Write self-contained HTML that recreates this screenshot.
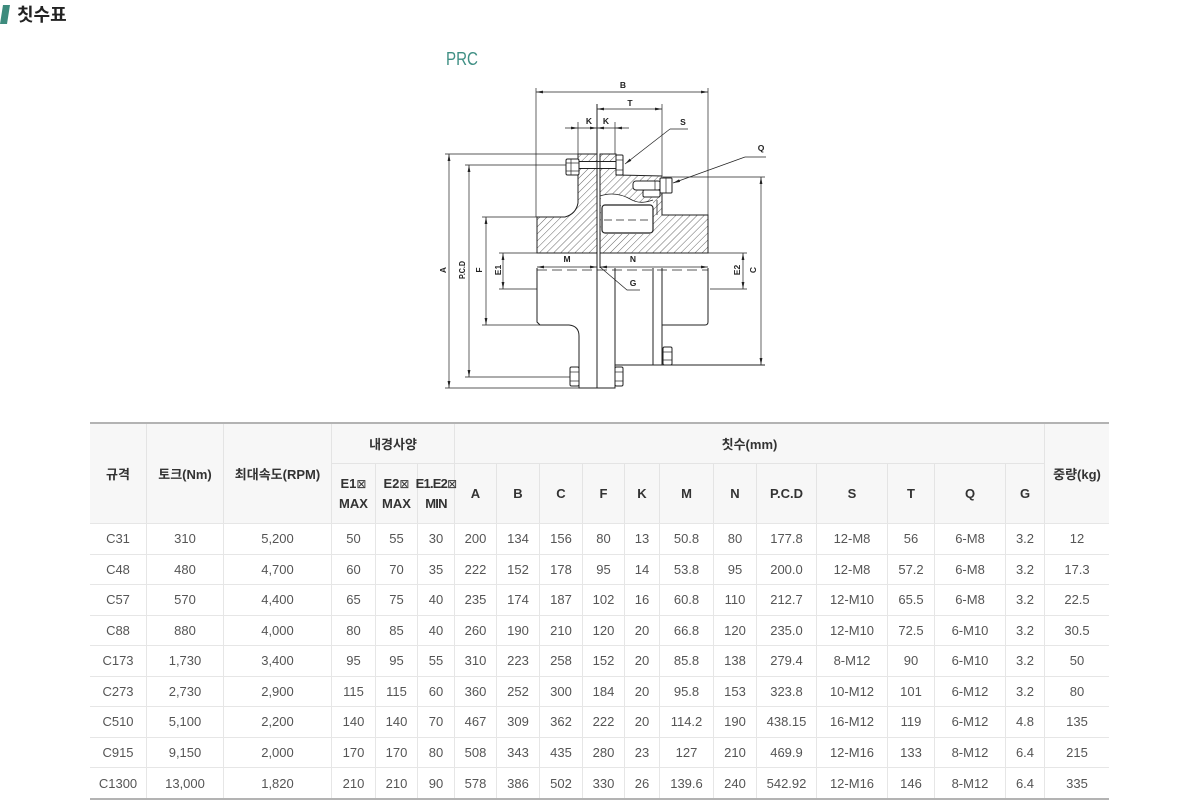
<!DOCTYPE html>
<html><head><meta charset="utf-8">
<style>
body{margin:0;width:1200px;height:800px;background:#fff;position:relative;overflow:hidden;font-family:"Liberation Sans","Noto Sans CJK KR",sans-serif;}
.c{position:absolute;display:flex;align-items:center;justify-content:center;text-align:center;box-sizing:border-box;font-weight:bold;color:#333;font-size:13px;white-space:nowrap;}
.br{border-right:1px solid #e4e4e4;}
.row{position:absolute;left:90px;width:1019px;height:30.5px;display:flex;border-top:1px solid #e6e6e6;box-sizing:border-box;font-size:13px;color:#555;}
.row div{display:flex;align-items:center;justify-content:center;border-right:1px solid #e6e6e6;box-sizing:border-box;white-space:nowrap;}
.row div:last-child{border-right:none}
.row div:nth-child(1){width:57px}.row div:nth-child(2){width:77px}.row div:nth-child(3){width:108px}
.row div:nth-child(4){width:44px}.row div:nth-child(5){width:42px}.row div:nth-child(6){width:37px}
.row div:nth-child(7){width:42px}.row div:nth-child(8){width:43px}.row div:nth-child(9){width:43px}
.row div:nth-child(10){width:42px}.row div:nth-child(11){width:35px}.row div:nth-child(12){width:54px}
.row div:nth-child(13){width:43px}.row div:nth-child(14){width:60px}.row div:nth-child(15){width:71px}
.row div:nth-child(16){width:47px}.row div:nth-child(17){width:71px}.row div:nth-child(18){width:39px}
.row div:nth-child(19){width:64px}
.h2{position:absolute;left:332px;top:463px;width:713px;height:60px;display:flex;border-top:1px solid #e4e4e4;box-sizing:border-box;}
.h2 > div{display:flex;align-items:center;justify-content:center;text-align:center;border-right:1px solid #e4e4e4;box-sizing:border-box;font-weight:bold;color:#333;font-size:13px;line-height:20px;white-space:nowrap;}
.h2 > div > span.w{display:block;text-align:center;white-space:nowrap;}
.bx{font-family:"DejaVu Sans",sans-serif;font-weight:normal;font-size:12px;}
</style></head><body>

<svg width="1200" height="420" viewBox="0 0 1200 420" style="position:absolute;left:0;top:0">
<defs>
<pattern id="h" width="5" height="5" patternUnits="userSpaceOnUse" patternTransform="rotate(45)"><line x1="0" y1="0" x2="0" y2="5" stroke="#555" stroke-width="0.9"/></pattern>
<marker id="ar" viewBox="0 0 10 4" refX="10" refY="2" markerWidth="7" markerHeight="2.8" markerUnits="userSpaceOnUse" orient="auto-start-reverse"><path d="M0,0 L10,2 L0,4 z" fill="#222"/></marker>
</defs>

<polygon points="3,5 10,5 7,24 0,24" fill="#3d8b7d"/>
<text x="17" y="21" font-size="18" font-weight="bold" fill="#222" font-family="Liberation Sans, Noto Sans CJK KR, sans-serif">칫수표</text>
<text x="446" y="65" font-size="18" fill="#3f8f84" font-family="Liberation Sans, Noto Sans CJK KR, sans-serif" textLength="32" lengthAdjust="spacingAndGlyphs">PRC</text>

<g stroke="#222" stroke-width="1" fill="none">
<path d="M537,217 L565,217 Q576,214 578,203 L578,154 L597,154 L597,253 L537,253 Z" fill="url(#h)"/>
<path d="M600,154 L616,154 L616,175 L662,176 L662,215 L708,215 L708,253 L600,253 Z" fill="url(#h)"/>
<path d="M601,196 C612,192 622,194 632,200 C640,204 647,202 653,200 L653,234 L601,234 Z" fill="#fff" stroke="none"/>
<path d="M600,196 C612,192 622,194 632,200 C640,204 647,202 653,200" stroke-width="0.8"/>
<rect x="602" y="205" width="51" height="28" rx="3" fill="#fff" stroke-width="1.2"/>
<line x1="604" y1="220" x2="652" y2="220" stroke-dasharray="8 4" stroke-width="0.8"/>
<line x1="657" y1="200" x2="657" y2="215" stroke-width="0.8"/>

<rect x="579" y="161.5" width="37" height="7" fill="#fff"/>
<rect x="566" y="159" width="13" height="16" rx="1.5" fill="#fff"/>
<line x1="566" y1="163" x2="579" y2="163" stroke-width="0.7"/>
<line x1="566" y1="171" x2="579" y2="171" stroke-width="0.7"/>
<line x1="571" y1="159" x2="571" y2="175" stroke-width="0.7"/>
<rect x="616" y="155" width="7" height="20" rx="1" fill="#fff"/>
<line x1="616" y1="160" x2="623" y2="160" stroke-width="0.7"/>
<line x1="616" y1="170" x2="623" y2="170" stroke-width="0.7"/>

<rect x="633" y="181" width="28" height="9" rx="3" fill="#fff"/>
<rect x="643" y="190" width="17" height="7" rx="1.5" fill="#fff"/>
<rect x="660" y="178" width="12" height="15" rx="1" fill="#fff"/>
<line x1="666" y1="178" x2="666" y2="193" stroke-width="0.7"/>
<line x1="655" y1="181" x2="655" y2="190" stroke-width="0.7"/>

<line x1="597" y1="104" x2="597" y2="388"/>
<line x1="600" y1="154" x2="600" y2="268"/>

<path d="M537,268 L537,322 L540,325 L569,325 Q579,326 579,336 L579,388 L615,388 L615,268"/>
<line x1="615" y1="365" x2="765" y2="365" stroke-width="0.9"/>
<line x1="653" y1="268" x2="653" y2="365"/>
<line x1="662" y1="268" x2="662" y2="365"/>
<path d="M662,325 L705,325 Q708,325 708,322 L708,268"/>
<rect x="570" y="367" width="9" height="19" rx="1.5" fill="#fff"/>
<line x1="570" y1="372" x2="579" y2="372" stroke-width="0.7"/>
<line x1="570" y1="381" x2="579" y2="381" stroke-width="0.7"/>
<rect x="615" y="367" width="8" height="19" rx="1.5" fill="#fff"/>
<line x1="615" y1="372" x2="623" y2="372" stroke-width="0.7"/>
<line x1="615" y1="381" x2="623" y2="381" stroke-width="0.7"/>
<rect x="663" y="347" width="9" height="18" rx="1.5" fill="#fff"/>
<line x1="663" y1="352" x2="672" y2="352" stroke-width="0.7"/>
<line x1="663" y1="360" x2="672" y2="360" stroke-width="0.7"/>

<line x1="537" y1="270" x2="708" y2="270" stroke-dasharray="10 5" stroke-width="0.8"/>
</g>

<g stroke="#222" stroke-width="0.7" fill="none">
<line x1="536" y1="88" x2="536" y2="217"/>
<line x1="708" y1="88" x2="708" y2="215"/>
<line x1="536" y1="92" x2="708" y2="92" marker-start="url(#ar)" marker-end="url(#ar)"/>
<line x1="662" y1="104" x2="662" y2="176"/>
<line x1="597" y1="109" x2="662" y2="109" marker-start="url(#ar)" marker-end="url(#ar)"/>
<line x1="578" y1="122" x2="578" y2="154"/>
<line x1="615" y1="122" x2="615" y2="154"/>
<line x1="565" y1="128" x2="629" y2="128"/>
<line x1="670" y1="129" x2="625" y2="164" marker-end="url(#ar)"/>
<line x1="670" y1="129" x2="688" y2="129"/>
<line x1="745" y1="157" x2="673" y2="183" marker-end="url(#ar)"/>
<line x1="745" y1="157" x2="766" y2="157"/>
<line x1="445" y1="154" x2="578" y2="154"/>
<line x1="445" y1="388" x2="579" y2="388"/>
<line x1="449" y1="154" x2="449" y2="388" marker-start="url(#ar)" marker-end="url(#ar)"/>
<line x1="465" y1="165" x2="566" y2="165"/>
<line x1="465" y1="377" x2="570" y2="377"/>
<line x1="469" y1="165" x2="469" y2="377" marker-start="url(#ar)" marker-end="url(#ar)"/>
<line x1="482" y1="217" x2="537" y2="217"/>
<line x1="482" y1="325" x2="540" y2="325"/>
<line x1="486" y1="217" x2="486" y2="325" marker-start="url(#ar)" marker-end="url(#ar)"/>
<line x1="499" y1="253" x2="537" y2="253"/>
<line x1="499" y1="289" x2="537" y2="289"/>
<line x1="503" y1="253" x2="503" y2="289" marker-start="url(#ar)" marker-end="url(#ar)"/>
<line x1="708" y1="253" x2="747" y2="253"/>
<line x1="710" y1="289" x2="747" y2="289"/>
<line x1="743" y1="253" x2="743" y2="289" marker-start="url(#ar)" marker-end="url(#ar)"/>
<line x1="663" y1="177" x2="765" y2="177"/>
<line x1="761" y1="177" x2="761" y2="365" marker-start="url(#ar)" marker-end="url(#ar)"/>
<line x1="537" y1="267" x2="597" y2="267" marker-start="url(#ar)" marker-end="url(#ar)"/>
<line x1="600" y1="267" x2="708" y2="267" marker-start="url(#ar)" marker-end="url(#ar)"/>
<polyline points="600,267 627,290 640,290"/>
</g>
<g fill="#222">
<polygon points="571,126.6 578,128 571,129.4"/>
<polygon points="590,126.6 597,128 590,129.4"/>
<polygon points="604,126.6 597,128 604,129.4"/>
<polygon points="622,126.6 615,128 622,129.4"/>
</g>

<g font-family="Liberation Sans, sans-serif" font-weight="bold" font-size="8.5" fill="#222" text-anchor="middle">
<text x="623" y="88">B</text>
<text x="630" y="106">T</text>
<text x="589" y="124">K</text>
<text x="606" y="124">K</text>
<text x="683" y="125">S</text>
<text x="761" y="151">Q</text>
<text x="567" y="262">M</text>
<text x="633" y="262">N</text>
<text x="633" y="286">G</text>
<text transform="translate(443,270) rotate(-90)" y="3">A</text>
<text transform="translate(462,270) rotate(-90)" y="3" textLength="18" lengthAdjust="spacingAndGlyphs">P.C.D</text>
<text transform="translate(479,270) rotate(-90)" y="3">F</text>
<text transform="translate(498,270) rotate(-90)" y="3">E1</text>
<text transform="translate(737,270) rotate(-90)" y="3">E2</text>
<text transform="translate(753,270) rotate(-90)" y="3">C</text>
</g>
</svg>

<div style="position:absolute;left:90px;top:424px;width:1019px;height:99px;background:#f7f7f7"></div>
<div style="position:absolute;left:90px;top:422px;width:1019px;height:2px;background:#b3b3b3"></div>
<div class="c br" style="left:90px;top:424px;width:57px;height:99px">규격</div>
<div class="c br" style="left:147px;top:424px;width:77px;height:99px">토크(Nm)</div>
<div class="c br" style="left:224px;top:424px;width:108px;height:99px">최대속도(RPM)</div>
<div class="c br" style="left:332px;top:424px;width:123px;height:39px">내경사양</div>
<div class="c br" style="left:455px;top:424px;width:590px;height:39px">칫수(mm)</div>
<div class="c" style="left:1045px;top:424px;width:64px;height:99px">중량(kg)</div>
<div class="h2">
<div style="width:44px"><span class="w">E1<span class="bx">⊠</span><br>MAX</span></div>
<div style="width:42px"><span class="w">E2<span class="bx">⊠</span><br>MAX</span></div>
<div style="width:37px"><span class="w" style="letter-spacing:-0.8px">E1.E2<span class="bx">⊠</span><br>MIN</span></div>
<div style="width:42px">A</div>
<div style="width:43px">B</div>
<div style="width:43px">C</div>
<div style="width:42px">F</div>
<div style="width:35px">K</div>
<div style="width:54px">M</div>
<div style="width:43px">N</div>
<div style="width:60px">P.C.D</div>
<div style="width:71px">S</div>
<div style="width:47px">T</div>
<div style="width:71px">Q</div>
<div style="width:39px">G</div>
</div>

<div class="row" style="top:523px"><div>C31</div><div>310</div><div>5,200</div><div>50</div><div>55</div><div>30</div><div>200</div><div>134</div><div>156</div><div>80</div><div>13</div><div>50.8</div><div>80</div><div>177.8</div><div>12-M8</div><div>56</div><div>6-M8</div><div>3.2</div><div>12</div></div>
<div class="row" style="top:553.5px"><div>C48</div><div>480</div><div>4,700</div><div>60</div><div>70</div><div>35</div><div>222</div><div>152</div><div>178</div><div>95</div><div>14</div><div>53.8</div><div>95</div><div>200.0</div><div>12-M8</div><div>57.2</div><div>6-M8</div><div>3.2</div><div>17.3</div></div>
<div class="row" style="top:584px"><div>C57</div><div>570</div><div>4,400</div><div>65</div><div>75</div><div>40</div><div>235</div><div>174</div><div>187</div><div>102</div><div>16</div><div>60.8</div><div>110</div><div>212.7</div><div>12-M10</div><div>65.5</div><div>6-M8</div><div>3.2</div><div>22.5</div></div>
<div class="row" style="top:614.5px"><div>C88</div><div>880</div><div>4,000</div><div>80</div><div>85</div><div>40</div><div>260</div><div>190</div><div>210</div><div>120</div><div>20</div><div>66.8</div><div>120</div><div>235.0</div><div>12-M10</div><div>72.5</div><div>6-M10</div><div>3.2</div><div>30.5</div></div>
<div class="row" style="top:645px"><div>C173</div><div>1,730</div><div>3,400</div><div>95</div><div>95</div><div>55</div><div>310</div><div>223</div><div>258</div><div>152</div><div>20</div><div>85.8</div><div>138</div><div>279.4</div><div>8-M12</div><div>90</div><div>6-M10</div><div>3.2</div><div>50</div></div>
<div class="row" style="top:675.5px"><div>C273</div><div>2,730</div><div>2,900</div><div>115</div><div>115</div><div>60</div><div>360</div><div>252</div><div>300</div><div>184</div><div>20</div><div>95.8</div><div>153</div><div>323.8</div><div>10-M12</div><div>101</div><div>6-M12</div><div>3.2</div><div>80</div></div>
<div class="row" style="top:706px"><div>C510</div><div>5,100</div><div>2,200</div><div>140</div><div>140</div><div>70</div><div>467</div><div>309</div><div>362</div><div>222</div><div>20</div><div>114.2</div><div>190</div><div>438.15</div><div>16-M12</div><div>119</div><div>6-M12</div><div>4.8</div><div>135</div></div>
<div class="row" style="top:736.5px"><div>C915</div><div>9,150</div><div>2,000</div><div>170</div><div>170</div><div>80</div><div>508</div><div>343</div><div>435</div><div>280</div><div>23</div><div>127</div><div>210</div><div>469.9</div><div>12-M16</div><div>133</div><div>8-M12</div><div>6.4</div><div>215</div></div>
<div class="row" style="top:767px;height:31px"><div>C1300</div><div>13,000</div><div>1,820</div><div>210</div><div>210</div><div>90</div><div>578</div><div>386</div><div>502</div><div>330</div><div>26</div><div>139.6</div><div>240</div><div>542.92</div><div>12-M16</div><div>146</div><div>8-M12</div><div>6.4</div><div>335</div></div>
<div style="position:absolute;left:90px;top:798px;width:1019px;height:2px;background:#b3b3b3"></div>
</body></html>
